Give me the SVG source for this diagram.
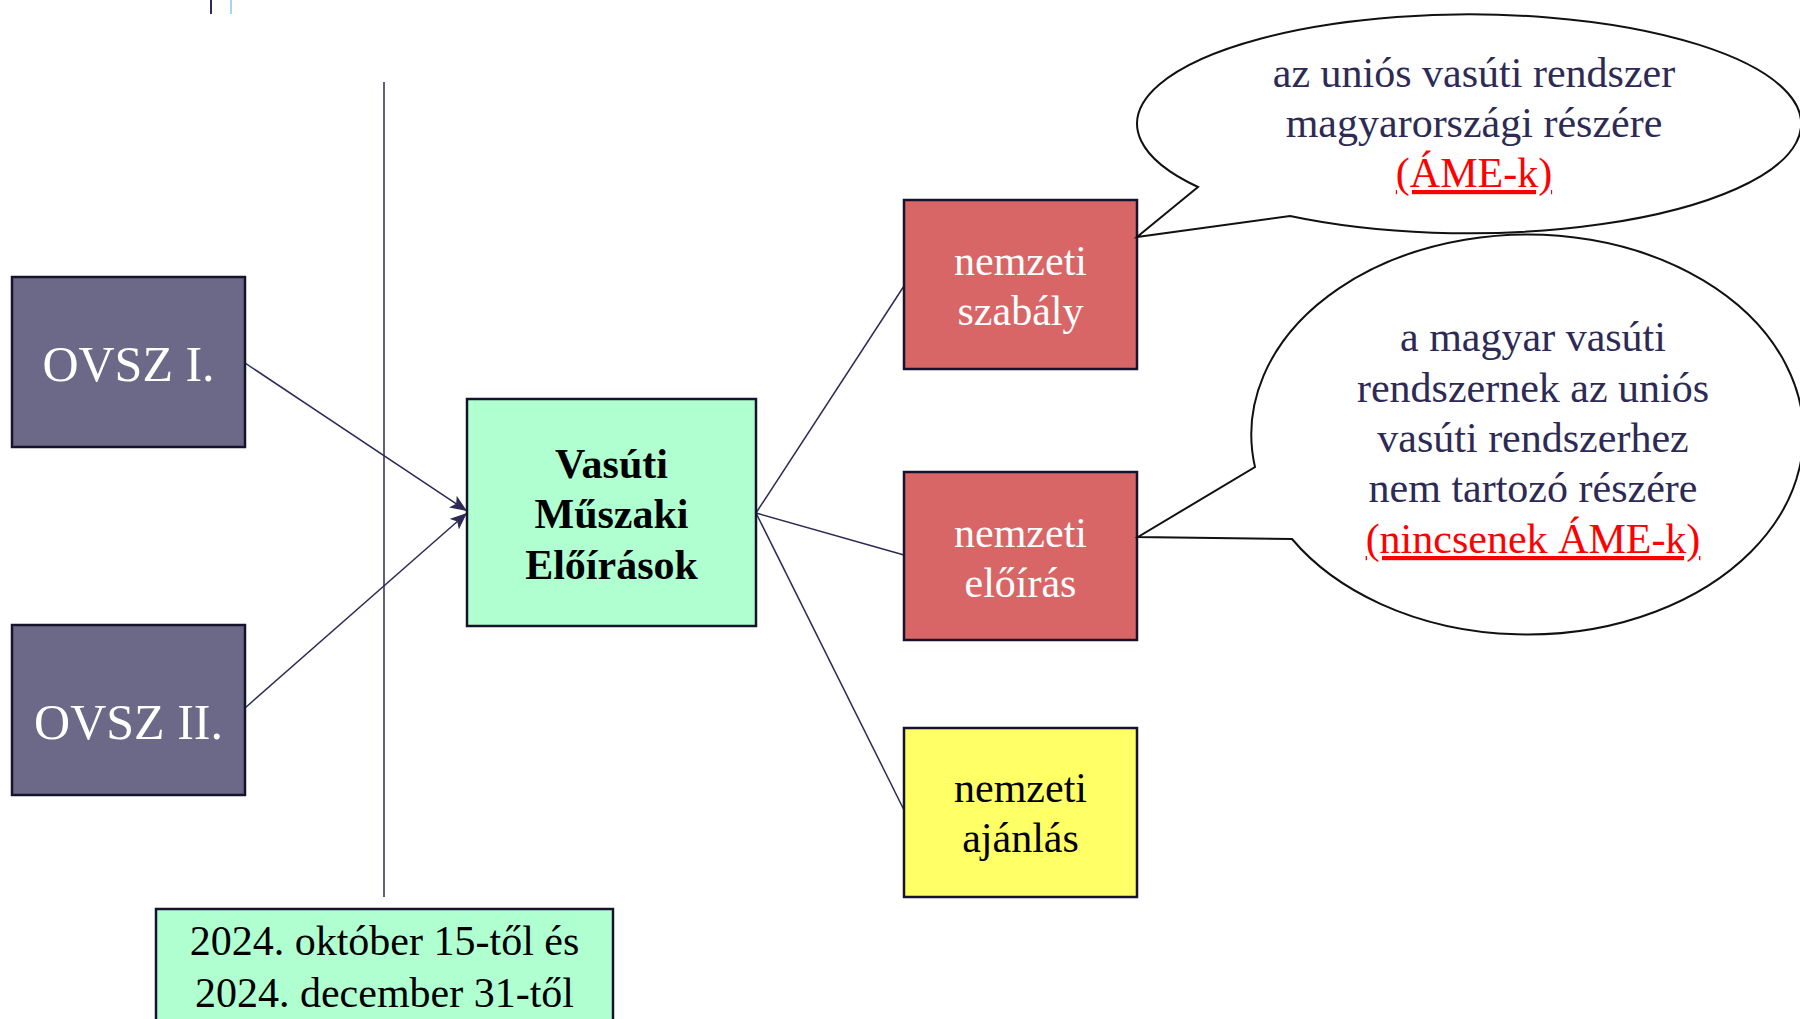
<svg xmlns="http://www.w3.org/2000/svg" width="1800" height="1019" viewBox="0 0 1800 1019">
<defs>
<style>
.box{stroke:#16142c;stroke-width:2.5}
.gray{fill:#6b6987}
.mint{fill:#afffd0}
.red{fill:#d96666}
.yel{fill:#ffff66}
.conn{stroke:#2d2b55;stroke-width:1.5;fill:none}
.bubble{fill:#ffffff;stroke:#111111;stroke-width:2;stroke-linejoin:miter}
text{font-family:"Liberation Serif","Times New Roman",serif;text-anchor:middle}
.w{fill:#ffffff}
.k{fill:#000000}
.n{fill:#2d2b55}
.r{fill:#ff0000;text-decoration:underline}
</style>
<marker id="arr" markerUnits="userSpaceOnUse" markerWidth="18" markerHeight="14" refX="17" refY="7" orient="auto">
<path d="M0,0 L17,7 L0,14 L4,7 Z" fill="#2d2b55"/>
</marker>
</defs>
<rect width="1800" height="1019" fill="#ffffff"/>
<line x1="211" y1="0" x2="211" y2="14" stroke="#2d2b55" stroke-width="2"/>
<line x1="231" y1="0" x2="231" y2="14" stroke="#a8d4f0" stroke-width="2"/>
<g id="connectors">
<line class="conn" x1="384" y1="82" x2="384" y2="897" stroke-width="2"/>
<line class="conn" x1="245" y1="363" x2="467" y2="511" marker-end="url(#arr)"/>
<line class="conn" x1="245" y1="708" x2="467" y2="513" marker-end="url(#arr)"/>
<line class="conn" x1="756" y1="513" x2="904" y2="286"/>
<line class="conn" x1="756" y1="513" x2="904" y2="555"/>
<line class="conn" x1="756" y1="513" x2="904" y2="810"/>
</g>
<g id="ovsz1">
<rect class="box gray" x="12" y="277" width="233" height="170"/>
<text class="w" x="128.5" y="381" font-size="50">OVSZ I.</text>
</g>
<g id="ovsz2">
<rect class="box gray" x="12" y="625" width="233" height="170"/>
<text class="w" x="128.5" y="739" font-size="50">OVSZ II.</text>
</g>
<g id="vme">
<rect class="box mint" x="467" y="399" width="289" height="227"/>
<text class="k" x="611.5" y="478" font-size="42" font-weight="bold">Vasúti</text>
<text class="k" x="611.5" y="528" font-size="42" font-weight="bold">Műszaki</text>
<text class="k" x="611.5" y="579" font-size="42" font-weight="bold">Előírások</text>
</g>
<g id="szabaly">
<rect class="box red" x="904" y="200" width="233" height="169"/>
<text class="w" x="1020.5" y="275" font-size="42">nemzeti</text>
<text class="w" x="1020.5" y="325" font-size="42">szabály</text>
</g>
<g id="eloiras">
<rect class="box red" x="904" y="472" width="233" height="168"/>
<text class="w" x="1020.5" y="547" font-size="42">nemzeti</text>
<text class="w" x="1020.5" y="597" font-size="42">előírás</text>
</g>
<g id="ajanlas">
<rect class="box yel" x="904" y="728" width="233" height="169"/>
<text class="k" x="1020.5" y="802" font-size="42">nemzeti</text>
<text class="k" x="1020.5" y="852" font-size="42">ajánlás</text>
</g>
<g id="datum">
<rect class="box mint" x="156" y="909" width="457" height="130"/>
<text class="k" x="384.5" y="955" font-size="42">2024. október 15-től és</text>
<text class="k" x="384.5" y="1007" font-size="42">2024. december 31-től</text>
</g>
<g id="bubble1">
<path class="bubble" d="M1198,187 A332,109.5 0 1 1 1290,216 L1137,237 Z"/>
<text class="n" x="1474" y="87" font-size="42">az uniós vasúti rendszer</text>
<text class="n" x="1474" y="137" font-size="42">magyarországi részére</text>
<text class="r" x="1474" y="187" font-size="42">(ÁME-k)</text>
</g>
<g id="bubble2">
<path class="bubble" d="M1255,467 A276,200 0 1 1 1292,539 L1138,537 Z"/>
<text class="n" x="1533" y="351" font-size="42">a magyar vasúti</text>
<text class="n" x="1533" y="402" font-size="42">rendszernek az uniós</text>
<text class="n" x="1533" y="452" font-size="42">vasúti rendszerhez</text>
<text class="n" x="1533" y="502" font-size="42">nem tartozó részére</text>
<text class="r" x="1533" y="553" font-size="42">(nincsenek ÁME-k)</text>
</g>
</svg>
